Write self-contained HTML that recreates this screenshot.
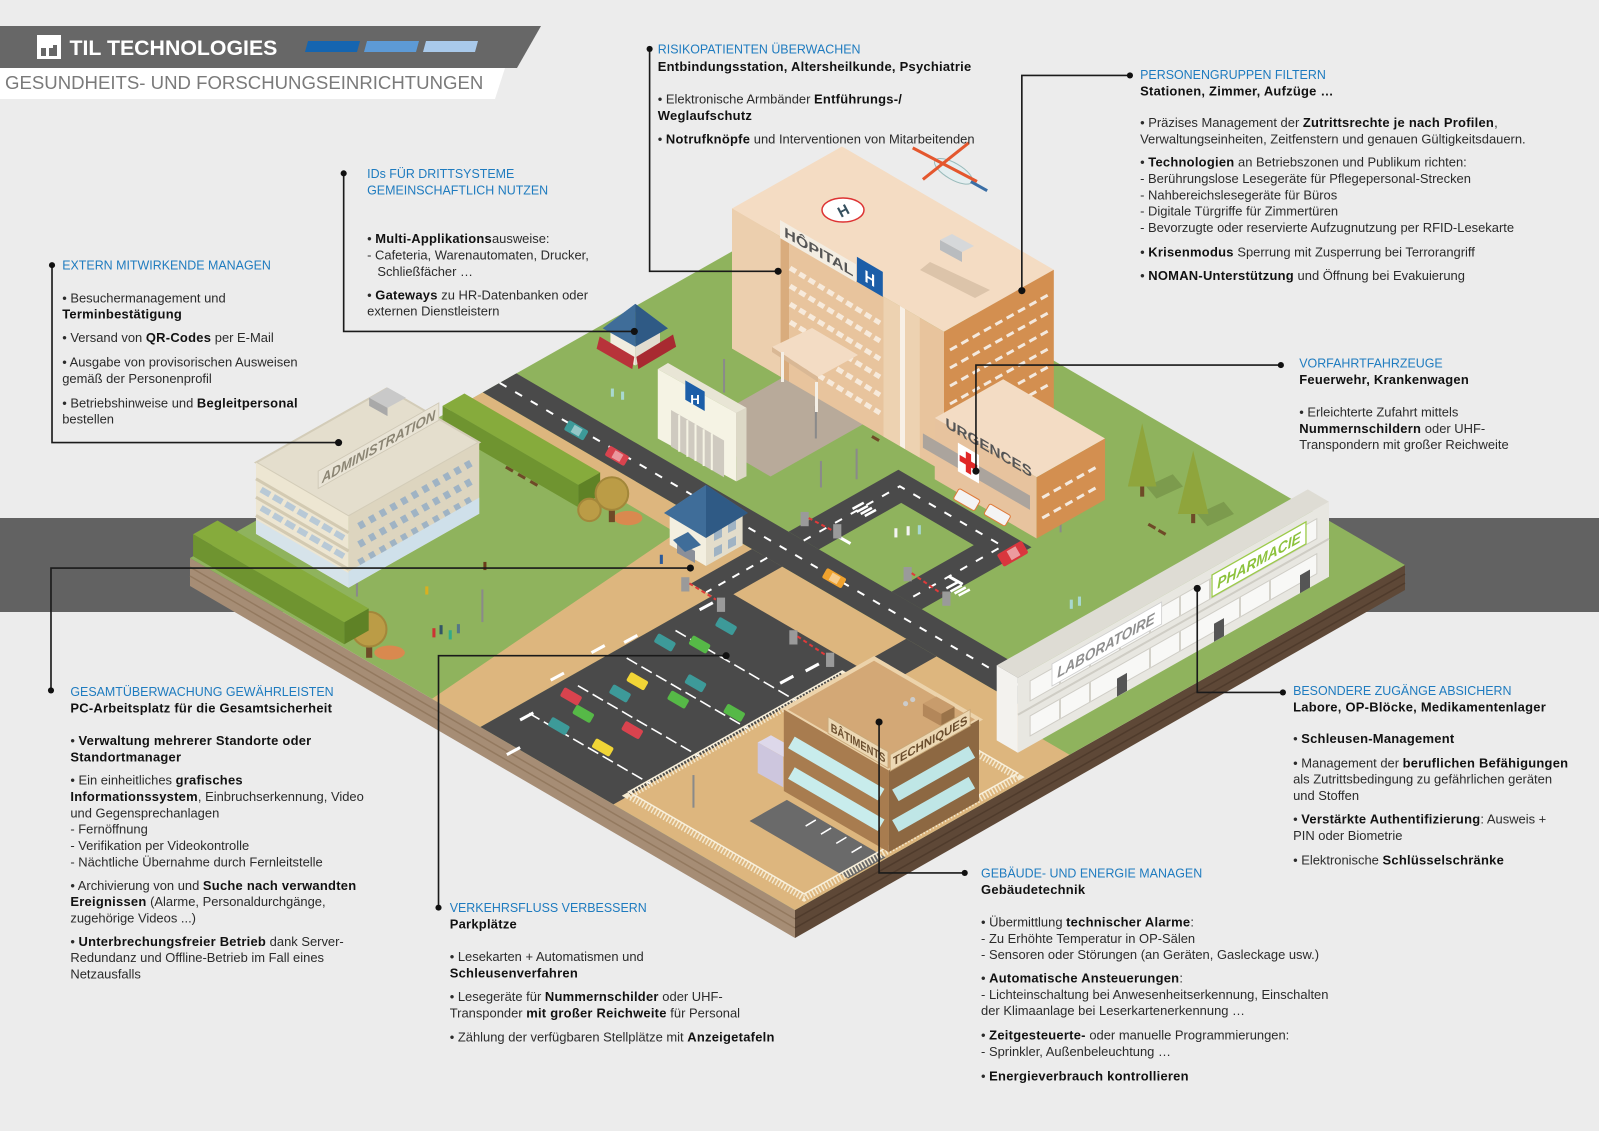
<!DOCTYPE html>
<html><head><meta charset="utf-8">
<style>
html,body{margin:0;padding:0;background:#ececec;}
svg{display:block;}
.t{fill:#1e7bbf;font-size:12.2px;}
.n{fill:#2b2b2b;font-size:12.7px;}
.k{font-weight:bold;fill:#111;letter-spacing:0.25px;}
</style></head><body>
<svg width="1599" height="1131" viewBox="0 0 1599 1131" xmlns="http://www.w3.org/2000/svg" font-family="'Liberation Sans', Arial, sans-serif">
<rect width="1599" height="1131" fill="#ececec"/>
<rect x="0" y="518" width="1599" height="94" fill="#626262"/>

<!-- platform sides -->
<polygon points="190,558 795,910 795,938 190,586" fill="#a68d75"/>
<line x1="190" y1="567" x2="795" y2="919" stroke="#93795f" stroke-width="1.5"/>
<line x1="190" y1="576" x2="795" y2="928" stroke="#93795f" stroke-width="1.5"/>
<polygon points="795,910 1405,565 1405,590 795,938" fill="#5e4837"/>
<line x1="795" y1="919" x2="1405" y2="574" stroke="#4f3b2c" stroke-width="1.5"/>
<line x1="795" y1="928" x2="1405" y2="583" stroke="#4f3b2c" stroke-width="1.5"/>
<!-- platform top -->
<polygon points="800,213 1405,565 795,910 190,558" fill="#8fb35d"/>

<!-- sand -->
<polygon points="482.8,392.4 773.2,561.4 480.4,727 432,698.8 676.2,532.9 461.5,404.5" fill="#ddb67e"/>
<polygon points="773.2,561.4 1039.4,716.2 1021.1,726.6 1069.5,754.8 795,910 480.4,727" fill="#ddb67e"/>

<!-- roads -->
<polygon points="516.4,373.4 1073,697.2 1039.4,716.2 482.8,392.4" fill="#4a4a4a"/>
<path d="M898.4,469.7 L1031.5,547.2 L921.7,609.3 L788.6,531.8 Z M901.2,502.9 L973.8,545.1 L891.5,591.7 L818.9,549.4 Z" fill="#4a4a4a" fill-rule="evenodd"/>
<polygon points="752,549 782.3,566.6 721.3,601.1 691,583.5" fill="#4a4a4a"/>
<polygon points="724.4,589 857.5,666.4 613.5,804.4 480.4,727" fill="#4a4a4a"/>
<polygon points="906.3,638.8 936.6,656.4 857.3,701.3 827,683.7" fill="#4a4a4a"/>

<!-- road markings -->
<line x1="499.6" y1="382.9" x2="1056" y2="706.7" stroke="#fff" stroke-width="2" stroke-dasharray="8 10"/>
<polyline points="803.7,540.6 899.8,486.3 1002.6,546.1 906.6,600.4" fill="none" stroke="#fff" stroke-width="2" stroke-dasharray="8 10"/>
<line x1="767.2" y1="557.8" x2="706.2" y2="592.3" stroke="#fff" stroke-width="2" stroke-dasharray="8 8"/>
<line x1="675.5" y1="630.5" x2="796.5" y2="700.9" stroke="#fff" stroke-width="1.6" stroke-dasharray="12 5"/>
<line x1="626.7" y1="658.1" x2="747.7" y2="728.5" stroke="#fff" stroke-width="1.6" stroke-dasharray="12 5"/>
<line x1="577.9" y1="685.7" x2="698.9" y2="756.1" stroke="#fff" stroke-width="1.6" stroke-dasharray="12 5"/>
<line x1="529.1" y1="713.3" x2="650.1" y2="783.7" stroke="#fff" stroke-width="1.6" stroke-dasharray="12 5"/>

<g transform="scale(1.0198)">
<!-- plaza -->
<polygon points="768.5,369.7 847.1,415.5 755.6,467.3 677,421.5" fill="#b8aa9a"/>
<!-- parking arrows & misc marks -->
<g stroke="#fff" stroke-width="3">
<line x1="497" y1="740" x2="510" y2="733"/><line x1="510" y1="706" x2="523" y2="699"/>
<line x1="540" y1="667" x2="553" y2="660"/><line x1="580" y1="640" x2="593" y2="633"/>
<line x1="612" y1="630" x2="625" y2="623"/><line x1="686" y1="598" x2="699" y2="591"/>
<line x1="765" y1="670" x2="778" y2="663"/><line x1="790" y1="658" x2="803" y2="651"/>
<line x1="820" y1="525" x2="834" y2="533"/><line x1="930" y1="565" x2="944" y2="573"/>
</g>
<!-- crosswalks -->
<g stroke="#fff" stroke-width="2.5">
<line x1="836" y1="499" x2="847" y2="493"/><line x1="840" y1="502" x2="851" y2="496"/><line x1="844" y1="504" x2="855" y2="498"/><line x1="848" y1="506" x2="859" y2="500"/>
<line x1="928" y1="577" x2="939" y2="571"/><line x1="932" y1="580" x2="943" y2="574"/><line x1="936" y1="582" x2="947" y2="576"/><line x1="940" y1="584" x2="951" y2="578"/>
</g>
<!-- tech paving -->
<polygon points="771.6,784.4 868.4,840.7 831.8,861.4 735,805" fill="#6a6a6a"/>
<g stroke="#fff" stroke-width="1.5"><line x1="790" y1="810" x2="800" y2="804"/><line x1="805" y1="818" x2="815" y2="812"/><line x1="820" y1="827" x2="830" y2="821"/><line x1="835" y1="836" x2="845" y2="830"/></g>
<!-- hedge 1 -->
<polygon points="455.4,385.9 588.5,463.3 567.1,475.4 434,398" fill="#86ab3c"/>
<polygon points="434,398 567.1,475.4 567.1,497.4 434,420" fill="#6f9430"/>
<polygon points="567.1,475.4 588.5,463.3 588.5,485.3 567.1,497.4" fill="#5f8226"/>
<!-- round trees -->
<ellipse cx="616" cy="508" rx="14" ry="7" fill="#d9894f"/>
<rect x="597" y="492" width="6" height="20" fill="#6e4a27"/>
<circle cx="600" cy="484" r="16" fill="#bb9c46" stroke="#a3873a" stroke-width="2"/>
<circle cx="578" cy="500" r="11" fill="#bb9c46" stroke="#a3873a" stroke-width="2"/>
<ellipse cx="382" cy="640" rx="15" ry="7" fill="#d9894f"/>
<rect x="359" y="625" width="6" height="20" fill="#6e4a27"/>
<circle cx="362" cy="617" r="17" fill="#bb9c46" stroke="#a3873a" stroke-width="2"/>
<!-- lamps & benches -->
<g stroke="#8a8a8a" stroke-width="2">
<line x1="710" y1="352" x2="710" y2="385"/><line x1="800" y1="398" x2="800" y2="430"/>
<line x1="840" y1="440" x2="840" y2="470"/><line x1="350" y1="553" x2="350" y2="585"/>
<line x1="473" y1="578" x2="473" y2="610"/><line x1="1040" y1="492" x2="1040" y2="522"/>
<line x1="680" y1="760" x2="680" y2="792"/><line x1="805" y1="452" x2="805" y2="478"/>
</g>
<g stroke="#6e4a27" stroke-width="3">
<line x1="496" y1="458" x2="503" y2="462"/><line x1="508" y1="465" x2="515" y2="469"/><line x1="520" y1="472" x2="527" y2="476"/>
<line x1="1126" y1="514" x2="1133" y2="518"/><line x1="1136" y1="520" x2="1143" y2="524"/>
<line x1="855" y1="428" x2="862" y2="432"/><line x1="760" y1="350" x2="767" y2="354"/>
</g>
</g>

<!-- fence -->
<polygon points="628.8,795.8 842.3,675 1017.7,777.1 804.2,897.9" fill="none" stroke="#f4e9cf" stroke-width="7" stroke-dasharray="1.5 2"/>
<polygon points="628.8,791.8 842.3,671 1017.7,773.1 804.2,893.9" fill="none" stroke="#f8f0dc" stroke-width="1.5"/>

<!-- hedge 2 -->
<polygon points="217.5,520.5 368.7,608.5 344.3,622.3 193.1,534.3" fill="#86ab3c"/>
<polygon points="193.1,534.3 344.3,622.3 344.3,644.3 193.1,556.3" fill="#6f9430"/>
<polygon points="344.3,622.3 368.7,608.5 368.7,630.5 344.3,644.3" fill="#5f8226"/>

<!-- pines -->
<g transform="scale(1.0198) translate(0,7)">
<polygon points="1124,470 1150,458 1160,470 1134,482" fill="#7c9b4d"/>
<rect x="1118" y="468" width="4" height="12" fill="#6e4a27"/>
<polygon points="1120,408 1106,470 1134,470" fill="#8fa53c"/>
<polygon points="1174,497 1200,485 1210,497 1184,509" fill="#7c9b4d"/>
<rect x="1168" y="494" width="4" height="12" fill="#6e4a27"/>
<polygon points="1170,435 1155,497 1185,497" fill="#8fa53c"/>
</g>

<!-- hospital -->
<polygon points="842,146.5 1053.8,269.7 944,331.7 732,208.5" fill="#f4dcc3"/>
<polygon points="732,208.5 944,331.7 944,471.7 732,348.5" fill="#e8c49d"/>
<polygon points="944,331.7 1053.8,269.7 1053.8,409.7 944,471.7" fill="#d38f50"/>
<polygon points="732,208.5 780.6,236.7 780.6,376.7 732,348.5" fill="#eccfae"/>
<polygon points="780.6,236.7 789,241.6 789,381.6 780.6,376.7" fill="#d9ac7d"/>
<polygon points="883.5,296.6 919.8,317.7 919.8,457.7 883.5,436.6" fill="#edd2b1"/>
<polygon points="900,306 905,309 905,449 900,446" fill="#f8f0e6"/>
<g stroke="#f7eadb" stroke-width="5" stroke-dasharray="7 4">
<line x1="790" y1="358" x2="880" y2="413"/><line x1="790" y1="340" x2="880" y2="395"/>
<line x1="790" y1="322" x2="880" y2="377"/><line x1="790" y1="304" x2="880" y2="359"/>
<line x1="790" y1="286" x2="880" y2="341"/><line x1="790" y1="268" x2="880" y2="323"/>
</g>
<g stroke="#f4e9de" stroke-width="3" stroke-dasharray="8 5">
<line x1="950" y1="440" x2="1048" y2="385"/><line x1="950" y1="422" x2="1048" y2="367"/>
<line x1="950" y1="404" x2="1048" y2="349"/><line x1="950" y1="386" x2="1048" y2="331"/>
<line x1="950" y1="368" x2="1048" y2="313"/><line x1="950" y1="350" x2="1048" y2="295"/>
</g>
<polygon points="930,262 990,290 975,298 920,270" fill="#dcc4aa"/>
<polygon points="940,240 962,252 962,262 940,250" fill="#b9bcbf"/>
<polygon points="940,240 952,234 974,246 962,252" fill="#d6d8da"/>
<ellipse cx="843" cy="210" rx="21" ry="12" fill="#fff" stroke="#d33" stroke-width="1.5"/>
<text x="843" y="216" font-size="15" font-weight="bold" fill="#35505e" text-anchor="middle" transform="rotate(-28 843 210)">H</text>
<g transform="matrix(0.864,0.503,0,1,780,218)">
<rect x="0" y="2" width="88" height="18" fill="#f3ede2"/>
<text x="5" y="16" font-size="14" font-weight="bold" fill="#555" textLength="80" lengthAdjust="spacingAndGlyphs">HÔPITAL</text>
<rect x="89" y="-6" width="30" height="25" fill="#1c5ea8"/>
<text x="104" y="14" font-size="17" font-weight="bold" fill="#fff" text-anchor="middle">H</text>
</g>
<!-- entrance canopy -->
<polygon points="772,347 812,328 858,355 818,377" fill="#f3dcc4"/>
<polygon points="772,347 818,377 818,382 772,352" fill="#d9b895"/>
<rect x="781" y="352" width="3" height="30" fill="#f4efe6"/>
<rect x="815" y="382" width="3" height="30" fill="#f4efe6"/>

<g transform="scale(1.0198)">
<!-- helicopter -->
<ellipse cx="935" cy="168" rx="21" ry="8" transform="rotate(30 935 168)" fill="#e4eef0" stroke="#9bb" stroke-width="1"/>
<line x1="952" y1="178" x2="968" y2="187" stroke="#3a6ea5" stroke-width="3"/>
<line x1="895" y1="145" x2="958" y2="178" stroke="#e4572e" stroke-width="3"/>
<line x1="905" y1="176" x2="950" y2="140" stroke="#e4572e" stroke-width="3"/>

<!-- urgences -->
<polygon points="983.7,371.9 1083.6,430 1016.5,468 916.6,409.9" fill="#f3dcc4"/>
<polygon points="916.6,409.9 1016.5,468 1016.5,528 916.6,469.9" fill="#e7c39e"/>
<polygon points="1016.5,468 1083.6,430 1083.6,490 1016.5,528" fill="#d38f50"/>
<polygon points="905,425 1010,486 1010,500 905,439" fill="#9c9c9c" opacity=".8"/>
<g stroke="#f4e9de" stroke-width="3" stroke-dasharray="8 5">
<line x1="1022" y1="508" x2="1077" y2="477"/><line x1="1022" y1="488" x2="1077" y2="457"/>
</g>
<g transform="matrix(0.864,0.503,0,1,922,398)">
<text x="6" y="18" font-size="14" font-weight="bold" fill="#555" textLength="98" lengthAdjust="spacingAndGlyphs">URGENCES</text>
<rect x="20" y="26" width="24" height="28" fill="#fff"/>
<rect x="29" y="30" width="6" height="20" fill="#e02828"/>
<rect x="22" y="37" width="20" height="6" fill="#e02828"/>
</g>

<!-- cafe -->
<polygon points="598.6,322.3 622.8,336.4 622.8,358.4 598.6,344.3" fill="#f1ede0"/>
<polygon points="622.8,336.4 647.2,322.6 647.2,344.6 622.8,358.4" fill="#e2ddd0"/>
<polygon points="588,330 622,350 620,362 585,342" fill="#b8333a"/>
<polygon points="624,350 660,328 663,340 626,362" fill="#a82a31"/>
<polygon points="591,322 623,306 623,298" fill="#5b89b5"/>
<polygon points="623,306 655,322 623,298" fill="#4f7dab"/>
<polygon points="591,322 623,340 623,298" fill="#3f6d99"/>
<polygon points="623,340 655,322 623,298" fill="#2f5a85"/>

<!-- hospital gate -->
<polygon points="645,362 655,356 732,400 722,405" fill="#e8e5d5"/>
<polygon points="645,362 722,405 722,472 645,430" fill="#f5f3e4"/>
<polygon points="722,405 732,400 732,467 722,472" fill="#dcd8c6"/>
<polygon points="658,402 710,432 710,468 658,438" fill="#cfcac0"/>
<g stroke="#f5f3e4" stroke-width="2"><line x1="666" y1="407" x2="666" y2="443"/><line x1="674" y1="412" x2="674" y2="448"/><line x1="682" y1="416" x2="682" y2="452"/><line x1="690" y1="421" x2="690" y2="457"/><line x1="698" y1="425" x2="698" y2="461"/></g>
<polygon points="672,373 691,384 691,403 672,392" fill="#1c5ea8"/>
<text x="681.5" y="396" font-size="13" font-weight="bold" fill="#fff" text-anchor="middle">H</text>

<!-- admin -->
<polygon points="251,453.5 379.1,381 469.9,433.8 341.8,506.3" fill="#e4decd" stroke="#d3ccb8" stroke-width="2"/>
<polygon points="251,453.5 341.8,506.3 341.8,576.3 251,523.5" fill="#ede6d2"/>
<polygon points="341.8,506.3 469.9,433.8 469.9,503.8 341.8,576.3" fill="#ddd5bf"/>
<g stroke="#b8c9d6" stroke-width="6" stroke-dasharray="10 4">
<line x1="256" y1="516" x2="338" y2="564"/><line x1="256" y1="498" x2="338" y2="546"/><line x1="256" y1="480" x2="338" y2="528"/>
</g>
<g stroke="#d3cab2" stroke-width="3">
<line x1="251" y1="505.5" x2="341.8" y2="558.3"/><line x1="251" y1="487.5" x2="341.8" y2="540.3"/><line x1="251" y1="469.5" x2="341.8" y2="522.3"/>
</g>
<g stroke="#9fb3c4" stroke-width="7" stroke-dasharray="6 6">
<line x1="352" y1="552" x2="462" y2="490"/><line x1="352" y1="534" x2="462" y2="472"/><line x1="352" y1="516" x2="462" y2="454"/>
</g>
<polygon points="341.8,576.3 469.9,503.8 469.9,488 341.8,560.5" fill="#cfe0ea"/>
<polygon points="251,523.5 341.8,576.3 341.8,562 251,509.5" fill="#d6e3ea"/>
<polygon points="362,390 380,380 398,390 380,400" fill="#c9c9c9"/>
<polygon points="362,390 380,400 380,408 362,398" fill="#a9a9a9"/>
<g transform="matrix(0.870,-0.492,0,1,312,462)">
<rect x="0" y="0" width="136" height="17" fill="#e9e4d6" stroke="#cfc8b6"/>
<text x="4" y="14" font-size="13.5" font-weight="bold" font-style="italic" fill="#8b8574" textLength="128" lengthAdjust="spacingAndGlyphs">ADMINISTRATION</text>
</g>
</g>

<!-- gatehouse -->
<polygon points="669.7,512.9 706,534 706,566 669.7,544.9" fill="#f3efe0"/>
<polygon points="706,534 742.6,513.3 742.6,545.3 706,566" fill="#e3ddcb"/>
<g fill="#9fb3c4"><polygon points="714,532 722,528 722,537 714,541"/><polygon points="728,524 736,520 736,529 728,533"/><polygon points="714,548 722,544 722,553 714,557"/><polygon points="728,540 736,536 736,545 728,549"/></g>
<polygon points="677,541 695,551 695,563 677,553" fill="#8a8f99"/>
<polygon points="673,540 688,532 701,545 685,552" fill="#3f6d99"/>
<polygon points="664,513 706,489 706,485" fill="#5b89b5"/>
<polygon points="706,489 748,513 706,485" fill="#4f7dab"/>
<polygon points="664,513 706,538 706,485" fill="#3f6d99"/>
<polygon points="706,538 748,513 706,485" fill="#2f5a85"/>

<!-- barriers -->
<g transform="scale(1.0198)">
<g fill="#9a9a9a">
<rect x="668" y="566" width="8" height="14"/><rect x="703" y="586" width="8" height="14"/>
<rect x="785" y="502" width="8" height="14"/><rect x="817" y="514" width="8" height="14"/>
<rect x="774" y="618" width="8" height="14"/><rect x="810" y="640" width="8" height="14"/>
<rect x="886" y="556" width="8" height="14"/><rect x="924" y="580" width="8" height="14"/>
</g>
<g stroke="#e03a3a" stroke-width="2" stroke-dasharray="4 3">
<line x1="676" y1="572" x2="702" y2="588"/><line x1="793" y1="508" x2="816" y2="520"/>
<line x1="782" y1="624" x2="809" y2="642"/><line x1="894" y1="562" x2="923" y2="582"/>
</g>
</g>

<!-- lab -->
<polygon points="1307.8,489.4 1329,501.8 1017.9,677.8 996.7,665.4" fill="#dedcd4"/>
<polygon points="1017.9,677.8 1329,501.8 1329,576.8 1017.9,752.8" fill="#e8e7e1"/>
<polygon points="996.7,665.4 1017.9,677.8 1017.9,752.8 996.7,740.4" fill="#f3f2ee"/>
<polygon points="1030.1,680.9 1316.8,518.7 1316.8,538.7 1030.1,700.9" fill="#f8f8f6" stroke="#cfcdc6"/>
<polygon points="1030.1,735.9 1316.8,573.7 1316.8,553.7 1030.1,715.9" fill="#f8f8f6" stroke="#cfcdc6"/>
<line x1="1017.9" y1="714.8" x2="1329" y2="538.8" stroke="#cfcdc5" stroke-width="2"/>
<g stroke="#d4d2ca" stroke-width="2">
<line x1="1060" y1="664" x2="1060" y2="684"/><line x1="1090" y1="647" x2="1090" y2="667"/><line x1="1120" y1="630" x2="1120" y2="650"/><line x1="1150" y1="613" x2="1150" y2="633"/><line x1="1180" y1="596" x2="1180" y2="616"/><line x1="1210" y1="579" x2="1210" y2="599"/><line x1="1240" y1="562" x2="1240" y2="582"/><line x1="1270" y1="545" x2="1270" y2="565"/><line x1="1300" y1="528" x2="1300" y2="548"/>
<line x1="1060" y1="699" x2="1060" y2="719"/><line x1="1090" y1="682" x2="1090" y2="702"/><line x1="1150" y1="648" x2="1150" y2="668"/><line x1="1180" y1="631" x2="1180" y2="651"/><line x1="1240" y1="597" x2="1240" y2="617"/><line x1="1270" y1="580" x2="1270" y2="600"/>
</g>
<polygon points="1117,696.6 1127,690.9 1127,672.9 1117,678.6" fill="#555"/>
<polygon points="1214,641.7 1224,636.1 1224,618.1 1214,623.7" fill="#555"/>
<polygon points="1300,593.2 1310,587.5 1310,569.5 1300,575.2" fill="#555"/>
<g transform="matrix(0.870,-0.492,0,1,1052,664)">
<rect x="0" y="0" width="126" height="22" fill="#fff" stroke="#cfcfcf"/>
<text x="6" y="17" font-size="15" font-weight="bold" font-style="italic" fill="#8f8f8f" textLength="112" lengthAdjust="spacingAndGlyphs">LABORATOIRE</text>
</g>
<g transform="matrix(0.870,-0.492,0,1,1212,575)">
<rect x="0" y="0" width="108" height="22" fill="#fff" stroke="#9ccb4a" stroke-width="1.5"/>
<text x="6" y="17" font-size="15" font-weight="bold" font-style="italic" fill="#8cc23c" textLength="96" lengthAdjust="spacingAndGlyphs">PHARMACIE</text>
</g>

<g transform="scale(1.0198)">
<!-- garage annex -->
<polygon points="743,728 756,721 781,735 768,742" fill="#ddd8ea"/>
<polygon points="743,728 768,742 768,772 743,758" fill="#cdc6de"/>

<!-- tech building -->
<polygon points="857.1,645.6 960,705.5 871.5,755.6 768.6,695.7" fill="#d3a876" stroke="#ecd3ab" stroke-width="4"/>
<polygon points="768.6,695.7 871.5,755.6 871.5,835.6 768.6,775.7" fill="#a87c4f"/>
<polygon points="871.5,755.6 960,705.5 960,785.5 871.5,835.6" fill="#8d6842"/>
<line x1="776" y1="728" x2="864" y2="779.2" stroke="#c8ecec" stroke-width="13"/>
<line x1="776" y1="758" x2="864" y2="809.2" stroke="#c8ecec" stroke-width="13"/>
<line x1="878" y1="779.9" x2="953" y2="737.4" stroke="#bfe6e6" stroke-width="13"/>
<line x1="878" y1="809.9" x2="953" y2="767.4" stroke="#bfe6e6" stroke-width="13"/>
<polygon points="905,690 918,683 936,693 923,700" fill="#c89c6c"/>
<polygon points="905,690 923,700 923,712 905,702" fill="#b3875a"/>
<polygon points="923,700 936,693 936,705 923,712" fill="#9a7349"/>
<circle cx="888" cy="690" r="2.5" fill="#ccc"/><circle cx="895" cy="686" r="2.5" fill="#ccc"/>
<g transform="matrix(0.864,0.503,0,1,812,703)">
<rect x="0" y="0" width="68" height="16" fill="#ecd8b4" stroke="#c9a97a"/>
<text x="3" y="12.5" font-size="12" font-weight="bold" fill="#6b4e2e" textLength="62" lengthAdjust="spacingAndGlyphs">BÂTIMENTS</text>
</g>
<g transform="matrix(0.870,-0.492,0,1,873,740)">
<rect x="0" y="0" width="90" height="16" fill="#ecd8b4" stroke="#c9a97a"/>
<text x="3" y="12.5" font-size="12" font-weight="bold" fill="#6b4e2e" textLength="84" lengthAdjust="spacingAndGlyphs">TECHNIQUES</text>
</g>

<!-- cars -->
<g transform="translate(565,422) rotate(30)"><rect x="-11" y="-5.5" width="22" height="11" rx="2" fill="#3d9a99"/><rect x="-4" y="-4" width="9" height="8" fill="#fff" opacity=".45"/></g>
<g transform="translate(605,447) rotate(30)"><rect x="-11" y="-5.5" width="22" height="11" rx="2" fill="#d9434e"/><rect x="-4" y="-4" width="9" height="8" fill="#fff" opacity=".45"/></g>
<g transform="translate(818,567) rotate(30)"><rect x="-11" y="-5.5" width="22" height="11" rx="2" fill="#f0a22e"/><rect x="-4" y="-4" width="9" height="8" fill="#fff" opacity=".45"/></g>
<g transform="translate(712,614) rotate(30)"><rect x="-10" y="-5" width="20" height="10" rx="2" fill="#3d9a99"/></g>
<g transform="translate(686,632) rotate(30)"><rect x="-10" y="-5" width="20" height="10" rx="2" fill="#56b947"/></g>
<g transform="translate(652,630) rotate(30)"><rect x="-10" y="-5" width="20" height="10" rx="2" fill="#3d9a99"/></g>
<g transform="translate(625,668) rotate(30)"><rect x="-10" y="-5" width="20" height="10" rx="2" fill="#f1d536"/></g>
<g transform="translate(608,680) rotate(30)"><rect x="-10" y="-5" width="20" height="10" rx="2" fill="#3d9a99"/></g>
<g transform="translate(665,686) rotate(30)"><rect x="-10" y="-5" width="20" height="10" rx="2" fill="#56b947"/></g>
<g transform="translate(682,670) rotate(30)"><rect x="-10" y="-5" width="20" height="10" rx="2" fill="#3d9a99"/></g>
<g transform="translate(560,683) rotate(30)"><rect x="-10" y="-5" width="20" height="10" rx="2" fill="#d9434e"/></g>
<g transform="translate(572,700) rotate(30)"><rect x="-10" y="-5" width="20" height="10" rx="2" fill="#56b947"/></g>
<g transform="translate(548,712) rotate(30)"><rect x="-10" y="-5" width="20" height="10" rx="2" fill="#3d9a99"/></g>
<g transform="translate(620,716) rotate(30)"><rect x="-10" y="-5" width="20" height="10" rx="2" fill="#d9434e"/></g>
<g transform="translate(591,733) rotate(30)"><rect x="-10" y="-5" width="20" height="10" rx="2" fill="#f1d536"/></g>
<g transform="translate(720,699) rotate(30)"><rect x="-10" y="-5" width="20" height="10" rx="2" fill="#56b947"/></g>
<g transform="translate(948,490) rotate(30)"><rect x="-12" y="-6" width="24" height="12" rx="2" fill="#f4f4f4" stroke="#e07a3a"/></g>
<g transform="translate(978,505) rotate(30)"><rect x="-12" y="-6" width="24" height="12" rx="2" fill="#f4f4f4" stroke="#e07a3a"/></g>
<g transform="translate(993,543) rotate(-30)"><rect x="-14" y="-7" width="28" height="14" rx="2" fill="#d9363e"/><rect x="-4" y="-5" width="10" height="10" fill="#fff" opacity=".5"/></g>

<!-- people -->
<rect x="599" y="381" width="3" height="8" fill="#a8d8d0"/><rect x="609" y="384" width="3" height="8" fill="#a8d8d0"/>
<rect x="424" y="616" width="3" height="9" fill="#c33"/><rect x="431" y="613" width="3" height="9" fill="#356"/>
<rect x="440" y="618" width="3" height="9" fill="#3a8"/><rect x="448" y="612" width="3" height="9" fill="#578"/>
<rect x="417" y="575" width="3" height="8" fill="#d9b020"/><rect x="474" y="551" width="3" height="8" fill="#6a3a1a"/>
<rect x="877" y="518" width="3" height="9" fill="#f4f4f4"/><rect x="889" y="516" width="3" height="9" fill="#f4f4f4"/><rect x="900" y="515" width="3" height="9" fill="#a8d8d0"/>
<rect x="1049" y="588" width="3" height="9" fill="#a8d8d0"/><rect x="1057" y="585" width="3" height="9" fill="#a8d8d0"/>
<rect x="647" y="544" width="3" height="9" fill="#2b5a9a"/>
</g>

<g transform="scale(1.0198)">
<!-- connectors -->
<g stroke="#1a1a1a" stroke-width="1.6" fill="none">
<polyline points="637,48 637,266 763,266"/>
<polyline points="337,170 337,325 622,325"/>
<polyline points="51,260 51,434 332,434"/>
<polyline points="1108,74 1002,74 1002,285"/>
<polyline points="1256,358 957,358 957,462"/>
<polyline points="1258,679 1174,679 1174,577"/>
<polyline points="50,677 50,557 677,557"/>
<polyline points="430,890 430,643 712,643"/>
<polyline points="946,856 862,856 862,708"/>
</g>
<g fill="#111">
<circle cx="637" cy="48" r="3"/><circle cx="763" cy="266" r="3.5"/>
<circle cx="337" cy="170" r="3"/><circle cx="622" cy="325" r="3.5"/>
<circle cx="51" cy="260" r="3"/><circle cx="332" cy="434" r="3.5"/>
<circle cx="1108" cy="74" r="3"/><circle cx="1002" cy="285" r="3.5"/>
<circle cx="1256" cy="358" r="3"/><circle cx="957" cy="462" r="3.5"/>
<circle cx="1258" cy="679" r="3"/><circle cx="1174" cy="577" r="3.5"/>
<circle cx="50" cy="677" r="3"/><circle cx="677" cy="557" r="3.5"/>
<circle cx="430" cy="890" r="3"/><circle cx="712" cy="643" r="3.5"/>
<circle cx="946" cy="856" r="3"/><circle cx="862" cy="708" r="3.5"/>
</g>

<!-- block 1 -->
<text x="645" y="52.5" class="t">RISIKOPATIENTEN ÜBERWACHEN</text>
<text x="645" y="69.5" class="n k">Entbindungsstation, Altersheilkunde, Psychiatrie</text>
<text x="645" y="101.5" class="n">• Elektronische Armbänder <tspan class="k">Entführungs-/</tspan></text>
<text x="645" y="117.5" class="n k">Weglaufschutz</text>
<text x="645" y="140.5" class="n">• <tspan class="k">Notrufknöpfe</tspan> und Interventionen von Mitarbeitenden</text>

<!-- block 2 -->
<text x="360" y="174.5" class="t">IDs FÜR DRITTSYSTEME</text>
<text x="360" y="190.5" class="t">GEMEINSCHAFTLICH NUTZEN</text>
<text x="360" y="238.5" class="n">• <tspan class="k">Multi-Applikations</tspan>ausweise:</text>
<text x="360" y="254.5" class="n">- Cafeteria, Warenautomaten, Drucker,</text>
<text x="370" y="270.5" class="n">Schließfächer …</text>
<text x="360" y="293.5" class="n">• <tspan class="k">Gateways</tspan> zu HR-Datenbanken oder</text>
<text x="360" y="309.5" class="n">externen Dienstleistern</text>

<!-- block 3 -->
<text x="61" y="264.5" class="t">EXTERN MITWIRKENDE MANAGEN</text>
<text x="61" y="296.5" class="n">• Besuchermanagement und</text>
<text x="61" y="312.5" class="n k">Terminbestätigung</text>
<text x="61" y="335.5" class="n">• Versand von <tspan class="k">QR-Codes</tspan> per E-Mail</text>
<text x="61" y="359.5" class="n">• Ausgabe von provisorischen Ausweisen</text>
<text x="61" y="375.5" class="n">gemäß der Personenprofil</text>
<text x="61" y="399.5" class="n">• Betriebshinweise und <tspan class="k">Begleitpersonal</tspan></text>
<text x="61" y="415.5" class="n">bestellen</text>

<!-- block 4 -->
<text x="1118" y="77.5" class="t">PERSONENGRUPPEN FILTERN</text>
<text x="1118" y="93.5" class="n k">Stationen, Zimmer, Aufzüge …</text>
<text x="1118" y="124.5" class="n">• Präzises Management der <tspan class="k">Zutrittsrechte je nach Profilen</tspan>,</text>
<text x="1118" y="140.5" class="n">Verwaltungseinheiten, Zeitfenstern und genauen Gültigkeitsdauern.</text>
<text x="1118" y="163.5" class="n">• <tspan class="k">Technologien</tspan> an Betriebszonen und Publikum richten:</text>
<text x="1118" y="179.5" class="n">- Berührungslose Lesegeräte für Pflegepersonal-Strecken</text>
<text x="1118" y="195.5" class="n">- Nahbereichslesegeräte für Büros</text>
<text x="1118" y="211.5" class="n">- Digitale Türgriffe für Zimmertüren</text>
<text x="1118" y="227.5" class="n">- Bevorzugte oder reservierte Aufzugnutzung per RFID-Lesekarte</text>
<text x="1118" y="251.5" class="n">• <tspan class="k">Krisenmodus</tspan> Sperrung mit Zusperrung bei Terrorangriff</text>
<text x="1118" y="274.5" class="n">• <tspan class="k">NOMAN-Unterstützung</tspan> und Öffnung bei Evakuierung</text>

<!-- block 5 -->
<text x="1274" y="360.5" class="t">VORFAHRTFAHRZEUGE</text>
<text x="1274" y="376.5" class="n k">Feuerwehr, Krankenwagen</text>
<text x="1274" y="408.5" class="n">• Erleichterte Zufahrt mittels</text>
<text x="1274" y="424.5" class="n"><tspan class="k">Nummernschildern</tspan> oder UHF-</text>
<text x="1274" y="440.5" class="n">Transpondern mit großer Reichweite</text>

<!-- block 6 -->
<text x="1268" y="681.5" class="t">BESONDERE ZUGÄNGE ABSICHERN</text>
<text x="1268" y="697.5" class="n k">Labore, OP-Blöcke, Medikamentenlager</text>
<text x="1268" y="728.5" class="n">• <tspan class="k">Schleusen-Management</tspan></text>
<text x="1268" y="752.5" class="n">• Management der <tspan class="k">beruflichen Befähigungen</tspan></text>
<text x="1268" y="768.5" class="n">als Zutrittsbedingung zu gefährlichen geräten</text>
<text x="1268" y="784.5" class="n">und Stoffen</text>
<text x="1268" y="807.5" class="n">• <tspan class="k">Verstärkte Authentifizierung</tspan>: Ausweis +</text>
<text x="1268" y="823.5" class="n">PIN oder Biometrie</text>
<text x="1268" y="847.5" class="n">• Elektronische <tspan class="k">Schlüsselschränke</tspan></text>

<!-- block 7 -->
<text x="69" y="682.5" class="t">GESAMTÜBERWACHUNG GEWÄHRLEISTEN</text>
<text x="69" y="698.5" class="n k">PC-Arbeitsplatz für die Gesamtsicherheit</text>
<text x="69" y="730.5" class="n">• <tspan class="k">Verwaltung mehrerer Standorte oder</tspan></text>
<text x="69" y="746.5" class="n k">Standortmanager</text>
<text x="69" y="769.5" class="n">• Ein einheitliches <tspan class="k">grafisches</tspan></text>
<text x="69" y="785.5" class="n"><tspan class="k">Informationssystem</tspan>, Einbruchserkennung, Video</text>
<text x="69" y="801.5" class="n">und Gegensprechanlagen</text>
<text x="69" y="817.5" class="n">- Fernöffnung</text>
<text x="69" y="833.5" class="n">- Verifikation per Videokontrolle</text>
<text x="69" y="849.5" class="n">- Nächtliche Übernahme durch Fernleitstelle</text>
<text x="69" y="872.5" class="n">• Archivierung von und <tspan class="k">Suche nach verwandten</tspan></text>
<text x="69" y="888.5" class="n"><tspan class="k">Ereignissen</tspan> (Alarme, Personaldurchgänge,</text>
<text x="69" y="904.5" class="n">zugehörige Videos ...)</text>
<text x="69" y="927.5" class="n">• <tspan class="k">Unterbrechungsfreier Betrieb</tspan> dank Server-</text>
<text x="69" y="943.5" class="n">Redundanz und Offline-Betrieb im Fall eines</text>
<text x="69" y="959.5" class="n">Netzausfalls</text>

<!-- block 8 -->
<text x="441" y="894.5" class="t">VERKEHRSFLUSS VERBESSERN</text>
<text x="441" y="910.5" class="n k">Parkplätze</text>
<text x="441" y="942.5" class="n">• Lesekarten + Automatismen und</text>
<text x="441" y="958.5" class="n k">Schleusenverfahren</text>
<text x="441" y="981.5" class="n">• Lesegeräte für <tspan class="k">Nummernschilder</tspan> oder UHF-</text>
<text x="441" y="997.5" class="n">Transponder <tspan class="k">mit großer Reichweite</tspan> für Personal</text>
<text x="441" y="1021.5" class="n">• Zählung der verfügbaren Stellplätze mit <tspan class="k">Anzeigetafeln</tspan></text>

<!-- block 9 -->
<text x="962" y="860.5" class="t">GEBÄUDE- UND ENERGIE MANAGEN</text>
<text x="962" y="876.5" class="n k">Gebäudetechnik</text>
<text x="962" y="908.5" class="n">• Übermittlung <tspan class="k">technischer Alarme</tspan>:</text>
<text x="962" y="924.5" class="n">- Zu Erhöhte Temperatur in OP-Sälen</text>
<text x="962" y="940.5" class="n">- Sensoren oder Störungen (an Geräten, Gasleckage usw.)</text>
<text x="962" y="963.5" class="n">• <tspan class="k">Automatische Ansteuerungen</tspan>:</text>
<text x="962" y="979.5" class="n">- Lichteinschaltung bei Anwesenheitserkennung, Einschalten</text>
<text x="962" y="995.5" class="n">der Klimaanlage bei Leserkartenerkennung …</text>
<text x="962" y="1019.5" class="n">• <tspan class="k">Zeitgesteuerte-</tspan> oder manuelle Programmierungen:</text>
<text x="962" y="1035.5" class="n">- Sprinkler, Außenbeleuchtung …</text>
<text x="962" y="1059.5" class="n">• <tspan class="k">Energieverbrauch kontrollieren</tspan></text>
</g>

<!-- header -->
<polygon points="0,26 541,26 517,68 0,68" fill="#676767"/>
<polygon points="0,68 505,68 495,99 0,99" fill="#ffffff"/>
<rect x="37" y="35" width="24" height="24" fill="#fff"/>
<rect x="41" y="45" width="16" height="11" fill="#676767"/>
<rect x="46" y="48" width="3" height="8" fill="#fff"/>
<rect x="41" y="45" width="12" height="3" fill="#fff"/>
<text x="69.5" y="55" font-size="21.3" font-weight="bold" fill="#fff">TIL TECHNOLOGIES</text>
<polygon points="308,41 360,41 357,52 305,52" fill="#1565b0"/>
<polygon points="367,41 419,41 416,52 364,52" fill="#5d9ad6"/>
<polygon points="426,41 478,41 475,52 423,52" fill="#a9c9ea"/>
<text x="5" y="89" font-size="18.6" fill="#7a7a7a">GESUNDHEITS- UND FORSCHUNGSEINRICHTUNGEN</text>
</svg>
</body></html>
